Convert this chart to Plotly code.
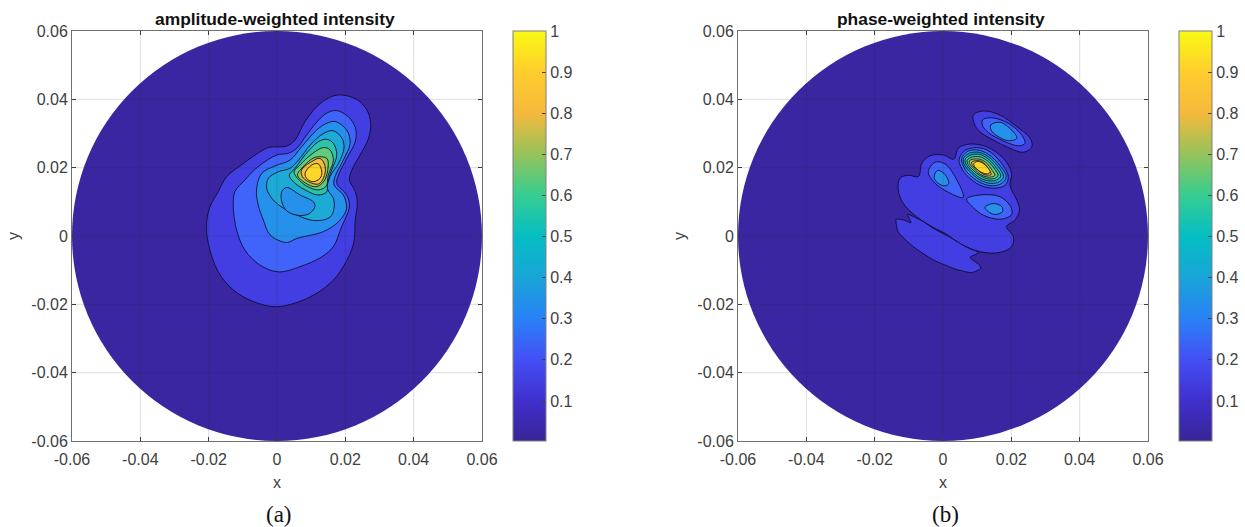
import plotly.graph_objects as go

# Contour outlines, in units of 1e-3 of the axis values
a1_x = [18.5, 23.3, 26.3, 27.4, 26.8, 24.3, 21.9, 21.2, 22.9, 23.5, 22.9, 22.4, 19.4, 15.5, 8.7, -0.1, -6.9, -12.8, -17.2, -20.1, -20.6, -19.6, -17.2, -14.7, -10.8, -6.4, -2.5, 2.8, 5.3, 8.2, 12.1, 15.5]
a1_y = [41.3, 40.0, 36.9, 33.0, 28.6, 23.7, 19.3, 16.4, 13.0, 9.5, 4.7, -2.2, -9.0, -13.9, -18.3, -20.7, -19.2, -15.8, -10.5, -2.2, 3.7, 8.6, 13.0, 17.4, 20.5, 23.7, 25.9, 26.3, 28.1, 33.5, 38.3, 40.6]
a2_x = [17.5, 20.9, 23.0, 22.9, 20.4, 18.0, 17.5, 20.4, 21.2, 18.9, 16.5, 13.1, 6.7, 0.4, -5.0, -9.4, -11.8, -12.8, -12.3, -9.4, -5.5, -0.1, 3.3, 5.8, 8.7, 12.6, 15.0]
a2_y = [36.7, 34.9, 31.5, 27.6, 22.7, 17.8, 15.4, 12.0, 8.6, 2.7, -3.1, -6.1, -9.0, -10.5, -8.5, -4.1, 1.7, 8.6, 13.0, 16.4, 20.3, 23.7, 24.2, 25.7, 29.6, 34.4, 36.2]
a3_x = [17.0, 20.4, 21.4, 19.4, 17.0, 16.7, 19.4, 20.4, 18.0, 13.6, 5.8, 2.8, -2.0, -4.0, -5.5, -6.0, -4.5, -0.6, 3.8, 7.2, 11.6, 14.6]
a3_y = [33.5, 31.0, 27.1, 22.2, 17.4, 14.9, 12.0, 8.1, 4.2, 1.3, -0.7, -1.9, 0.3, 4.7, 9.1, 13.5, 18.3, 20.5, 22.2, 26.1, 31.0, 33.0]
a4_x = [16.5, 19.0, 19.6, 18.0, 15.5, 14.75, 16.5, 16.7, 15.5, 11.1, 4.8, -0.6, -3.0, -2.5, 0.4, 3.8, 6.3, 9.7, 13.6]
a4_y = [30.8, 28.6, 25.7, 21.3, 17.4, 13.9, 11.0, 8.1, 5.5, 4.5, 6.6, 10.0, 13.9, 16.9, 18.8, 19.8, 22.2, 26.6, 30.0]
a_hole_x = [2.8, 6.75, 10.65, 11.1, 9.2, 5.8, 2.8, 1.4, 1.4]
a_hole_y = [14.2, 12.0, 10.0, 8.6, 6.4, 6.1, 7.4, 10.0, 13.0]
a5_x = [16.5, 17.5, 16.0, 14.75, 14.6, 12.1, 8.2, 4.8, 3.6, 5.3, 8.2, 12.1, 14.6]
a5_y = [27.1, 23.7, 19.3, 15.4, 13.0, 12.0, 13.5, 15.9, 17.8, 19.8, 23.7, 27.6, 28.3]
a6_x = [15.5, 16.5, 15.0, 14.4, 12.1, 8.7, 6.0, 5.0, 6.75, 10.2, 13.6]
a6_y = [25.2, 22.2, 17.8, 14.6, 13.5, 14.6, 16.9, 18.8, 20.8, 24.0, 25.9]
a7_x = [14.6, 14.95, 13.8, 11.4, 8.2, 6.0, 7.5, 11.1]
a7_y = [22.7, 20.1, 16.1, 14.4, 15.6, 17.8, 20.1, 23.0]
a8_x = [7.2, 10.2, 12.6, 14.1, 13.6, 12.1, 9.2, 7.4]
a8_y = [19.3, 21.8, 22.7, 20.3, 16.9, 15.2, 15.9, 17.4]
a9_x = [8.2, 10.2, 12.1, 13.1, 12.6, 10.65, 8.9]
a9_y = [18.3, 20.8, 21.1, 18.8, 16.9, 15.9, 16.6]

b_top1_x = [8.9, 11.8, 16.7, 21.6, 25.5, 26.0, 23.5, 19.6, 14.7, 10.8, 9.1]
b_top1_y = [35.4, 36.6, 35.4, 32.0, 28.6, 26.1, 24.5, 25.7, 28.1, 30.5, 33.0]
b_top2_x = [11.6, 14.3, 19.1, 23.0, 24.0, 22.1, 17.7, 13.3, 11.6]
b_top2_y = [34.0, 34.6, 33.0, 29.6, 27.1, 26.4, 27.8, 30.3, 32.3]
b_top3_x = [14.0, 16.7, 20.1, 21.6, 19.1, 15.7, 14.1]
b_top3_y = [32.5, 33.3, 31.0, 28.6, 27.9, 29.4, 31.0]
b_main_x = [-12.6, -10.1, -7.2, -6.2, -3.8, 0.1, 3.2, 4.5, 7.9, 12.8, 17.7, 20.1, 19.6, 21.6, 22.4, 21.1, 18.6, 20.6, 20.1, 16.7, 10.8, 5.0, 0.6, -2.3, -7.7, -11.6, -13.1]
b_main_y = [16.9, 17.8, 17.4, 21.3, 23.5, 23.7, 22.5, 25.7, 26.9, 26.1, 22.7, 18.3, 14.9, 10.5, 7.6, 4.7, 2.7, -0.2, -3.1, -4.8, -4.6, -2.2, 0.8, 2.2, 5.6, 9.5, 13.5]
b_low_x = [-13.7, -11.6, -9.4, -10.4, -8.7, -5.7, -2.8, 2.1, 6.9, 10.4, 7.9, 8.4, 10.7, 11.0, 8.4, 4.0, -2.8, -8.7, -13.1]
b_low_y = [4.9, 4.7, 3.9, 6.4, 5.7, 4.2, 2.2, -0.4, -3.3, -4.9, -6.2, -6.8, -8.5, -9.5, -10.7, -9.8, -7.0, -3.1, 1.2]
b_left2_x = [-4.3, -2.3, 0.6, 3.5, 5.9, 1.6, -2.3]
b_left2_y = [18.8, 21.6, 21.1, 17.4, 11.3, 12.8, 15.4]
b_left3_x = [-2.6, -1.6, 0.3, 1.7, 0.6, -1.4]
b_left3_y = [17.1, 19.2, 18.3, 15.4, 14.7, 15.4]
b_right2_x = [6.9, 10.8, 16.7, 19.8, 20.1, 16.7, 11.8, 8.9]
b_right2_y = [10.8, 12.0, 11.5, 8.6, 6.3, 4.9, 6.1, 8.3]
b_right3_x = [12.3, 14.7, 17.2, 17.4, 15.2, 13.3]
b_right3_y = [8.4, 9.5, 8.6, 7.1, 6.3, 7.1]
b2_x = [4.7, 6.0, 8.9, 12.8, 16.7, 19.1, 18.2, 14.7, 10.8, 6.9, 5.2]
b2_y = [22.2, 24.7, 25.8, 25.2, 21.8, 17.4, 14.9, 14.0, 14.9, 17.8, 20.3]
b3_x = [5.5, 7.1, 9.9, 13.3, 16.5, 18.5, 17.2, 14.3, 10.8, 7.4, 5.8]
b3_y = [22.7, 24.7, 25.2, 23.9, 20.8, 17.4, 15.4, 14.7, 15.7, 18.3, 20.8]
b4_x = [6.0, 7.7, 10.4, 13.3, 16.2, 17.7, 16.5, 14.0, 10.8, 7.9, 6.2]
b4_y = [22.7, 24.2, 24.5, 23.2, 20.3, 17.4, 15.9, 15.4, 16.4, 18.8, 21.0]
b5_x = [6.5, 8.1, 10.6, 13.3, 15.7, 16.9, 15.7, 13.8, 11.0, 8.4, 6.7]
b5_y = [22.5, 23.7, 23.9, 22.5, 19.8, 17.6, 16.4, 16.1, 16.9, 19.0, 21.1]
b6_x = [7.1, 8.5, 10.6, 13.0, 15.1, 16.1, 15.1, 13.3, 11.0, 8.9, 7.3]
b6_y = [22.2, 23.1, 23.2, 22.0, 19.6, 17.7, 16.9, 16.7, 17.6, 19.2, 21.0]
b7_x = [7.7, 8.9, 10.6, 12.6, 14.4, 15.2, 14.3, 12.8, 11.0, 9.4, 7.9]
b7_y = [22.0, 22.5, 22.5, 21.5, 19.2, 17.8, 17.3, 17.3, 18.0, 19.4, 21.0]
b8_x = [8.4, 9.4, 10.8, 12.3, 13.6, 14.1, 13.0, 11.6, 10.1, 8.7]
b8_y = [21.6, 22.0, 22.0, 21.0, 19.0, 18.0, 17.8, 18.2, 19.4, 20.6]
b9_x = [9.1, 10.1, 11.3, 12.8, 13.8, 13.0, 11.3, 9.9, 9.1]
b9_y = [21.3, 21.8, 21.5, 20.3, 18.8, 18.2, 18.6, 19.6, 20.6]

panel_titles = ["amplitude-weighted intensity", "phase-weighted intensity"]
panel_tags = ["(a)", "(b)"]
axis_ticks = [-0.06, -0.04, -0.02, 0, 0.02, 0.04, 0.06]
axis_labels = ["-0.06", "-0.04", "-0.02", "0", "0.02", "0.04", "0.06"]
bar_ticks = [0.1, 0.2, 0.3, 0.4, 0.5, 0.6, 0.7, 0.8, 0.9, 1]
bar_labels = ["0.1", "0.2", "0.3", "0.4", "0.5", "0.6", "0.7", "0.8", "0.9", "1"]
bar_min, bar_max = 0.0026, 1
disc_radius = 0.06

BG = "rgb(58,38,160)"
LEVEL = {1: "rgb(66,62,225)", 2: "rgb(64,100,250)", 3: "rgb(38,145,235)", 4: "rgb(30,170,215)",
         5: "rgb(45,195,165)", 6: "rgb(95,205,125)", 7: "rgb(170,195,75)", 8: "rgb(245,190,55)", 9: "rgb(252,215,40)"}
parula = [[0, "rgb(56,37,150)"], [0.1, "rgb(64,48,205)"], [0.2, "rgb(68,80,245)"], [0.3, "rgb(40,130,245)"],
          [0.4, "rgb(25,165,215)"], [0.5, "rgb(5,190,195)"], [0.6, "rgb(55,205,145)"], [0.7, "rgb(150,195,90)"],
          [0.8, "rgb(245,185,60)"], [0.9, "rgb(255,205,45)"], [1, "rgb(250,250,20)"]]

panel_a = [(a1_x, a1_y, 1), (a2_x, a2_y, 2), (a3_x, a3_y, 3), (a4_x, a4_y, 4), (a_hole_x, a_hole_y, 3),
           (a5_x, a5_y, 5), (a6_x, a6_y, 6), (a7_x, a7_y, 7), (a8_x, a8_y, 8), (a9_x, a9_y, 9)]
panel_b = [(b_top1_x, b_top1_y, 1), (b_top2_x, b_top2_y, 2), (b_top3_x, b_top3_y, 3),
           (b_main_x, b_main_y, 1), (b_low_x, b_low_y, 1),
           (b_left2_x, b_left2_y, 2), (b_left3_x, b_left3_y, 3), (b_right2_x, b_right2_y, 2), (b_right3_x, b_right3_y, 3),
           (b2_x, b2_y, 2), (b3_x, b3_y, 3), (b4_x, b4_y, 4), (b5_x, b5_y, 5), (b6_x, b6_y, 6),
           (b7_x, b7_y, 7), (b8_x, b8_y, 8), (b9_x, b9_y, 9)]

W, H = 1245, 527
FONT = "Liberation Sans"
TXT = "#404040"
fig = go.Figure()
shapes, notes = [], []

for i, (left, contours, title_c) in enumerate([(72, panel_a, 275), (738, panel_b, 941)]):
    n = "" if i == 0 else "2"
    ax, ay = "x" + n, "y" + n
    # colour bar carrier, hidden under the disc
    fig.add_trace(go.Scatter(x=[0, 0], y=[0, 0], xaxis=ax, yaxis=ay, mode="markers", showlegend=False, hoverinfo="skip",
        marker=dict(size=1, color=[bar_min, bar_max], cmin=bar_min, cmax=bar_max, colorscale=parula, showscale=True,
            colorbar=dict(x=(left + 441) / W, xanchor="left", xpad=0, y=1 - 441 / H, yanchor="bottom", ypad=0,
                len=410, lenmode="pixels", thickness=33, thicknessmode="pixels",
                tickvals=bar_ticks, ticktext=bar_labels, ticks="inside", ticklen=4, tickcolor="#404040", tickwidth=1,
                outlinecolor="#808080", outlinewidth=1, tickfont=dict(family=FONT, size=16, color=TXT)))))
    for cx, cy, lev in contours:
        xs = [v * 1e-3 for v in cx + cx[:1]]
        ys = [v * 1e-3 for v in cy + cy[:1]]
        smooth = 0.6 if cx is b_low_x else 1
        fig.add_trace(go.Scatter(x=xs, y=ys, xaxis=ax, yaxis=ay, mode="lines", fill="toself", fillcolor=LEVEL[lev],
            line=dict(color="rgba(10,10,40,0.85)", width=1, shape="spline", smoothing=smooth), showlegend=False, hoverinfo="skip"))
    shapes.append(dict(type="circle", xref=ax, yref=ay, x0=-disc_radius, x1=disc_radius, y0=-disc_radius, y1=disc_radius,
                       fillcolor=BG, line=dict(width=0), layer="below"))
    for t in axis_ticks[1:-1]:
        shapes.append(dict(type="line", xref=ax, yref=ay, x0=t, x1=t, y0=axis_ticks[0], y1=axis_ticks[-1],
                           line=dict(color="rgba(38,38,38,0.15)", width=1), layer="above"))
        shapes.append(dict(type="line", xref=ax, yref=ay, y0=t, y1=t, x0=axis_ticks[0], x1=axis_ticks[-1],
                           line=dict(color="rgba(38,38,38,0.15)", width=1), layer="above"))
    common = dict(range=[axis_ticks[0], axis_ticks[-1]], tickvals=axis_ticks, ticktext=axis_labels, ticks="inside", ticklen=4,
                  tickcolor="#404040", showgrid=False, zeroline=False, showline=True, linecolor="#707070", linewidth=1,
                  mirror="ticks", tickfont=dict(family=FONT, size=16, color=TXT))
    fig.update_layout(**{
        "xaxis" + n: dict(common, domain=[left / W, (left + 410) / W], anchor=ay, ticklabelstandoff=4,
                          title=dict(text="x", font=dict(family=FONT, size=16, color=TXT), standoff=9)),
        "yaxis" + n: dict(common, domain=[1 - 441 / H, 1 - 31 / H], anchor=ax,
                          title=dict(text="y", font=dict(family=FONT, size=16, color=TXT), standoff=7)),
    })
    notes.append(dict(text="<b>%s</b>" % panel_titles[i], x=title_c / W, y=1 - 19 / H, xref="paper", yref="paper",
                      showarrow=False, xanchor="center", yanchor="middle", font=dict(family=FONT, size=17.4, color="#111111")))
    notes.append(dict(text=panel_tags[i], x=(left + 207) / W, y=1 - 514 / H, xref="paper", yref="paper",
                      showarrow=False, xanchor="center", yanchor="middle", font=dict(family="Liberation Serif", size=23, color="#111111")))

fig.update_layout(width=W, height=H, margin=dict(l=0, r=0, t=0, b=0, autoexpand=False), paper_bgcolor="white", plot_bgcolor="white",
                  shapes=shapes, annotations=notes, showlegend=False)
fig.write_html("out.html", config=dict(displayModeBar=False),
               post_script="document.body.style.margin='0';document.documentElement.style.overflow='hidden';")
